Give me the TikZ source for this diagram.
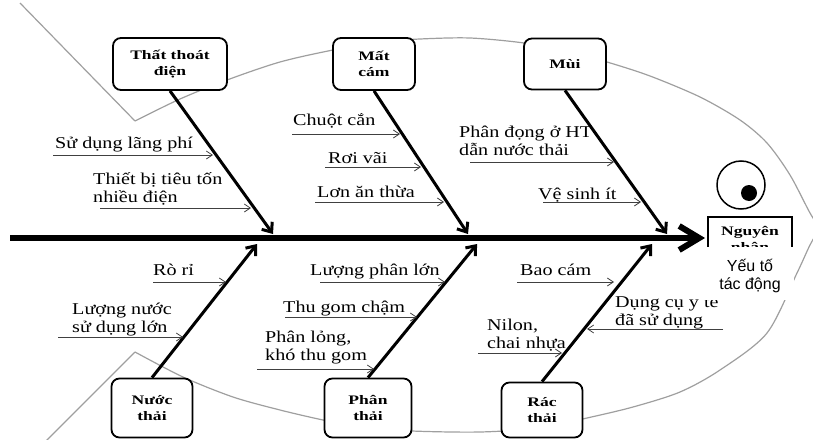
\documentclass[tikz,border=0pt]{standalone}
\usepackage{fontspec}
\setmainfont{Liberation Serif}[FakeStretch=1.22]
\newfontfamily\boxfont{Liberation Serif}[FakeStretch=1.35]
\newfontfamily\ysans{Liberation Sans}
\usetikzlibrary{arrows.meta}
\tikzset{
  cause/.style={draw, line width=1.8pt, rounded corners=8pt, fill=white, align=center,
    font=\boxfont\bfseries\fontsize{13}{16}\selectfont, inner sep=0pt},
  lbl/.style={font=\fontsize{16.5}{18}\selectfont, align=left, inner sep=0pt, anchor=base west},
  bone/.style={line width=3pt, -{Straight Barb[length=8pt,width=13pt]}},
  sub/.style={line width=0.8pt, black!75, -{Straight Barb[length=6pt,width=8pt]}},
  fish/.style={gray!75, line width=1.2pt}
}
\begin{document}
\begin{tikzpicture}[x=1pt,y=-1pt]
\useasboundingbox (0,0) rectangle (813,439);
\clip (0,0) rectangle (813,439);
% fish outline
\draw[fish] (20,3) -- (135,121);
\draw[fish] plot[smooth] coordinates {(135,121) (180,99) (227,80) (280,62) (333,50) (380,42) (420,39) (470,38) (524,43) (570,52) (607,62) (650,76) (700,97) (740,120) (767,143) (790,175) (810,213) (820,228)};
\draw[fish] plot[smooth] coordinates {(820,228) (810,245) (797,273) (767,333) (720,370) (680,392) (633,407) (587,418) (540,428) (480,432) (412,431) (360,427) (323,420) (280,410) (233,397) (183,377) (135,352)};
\draw[fish] (135,352) -- (45,442);
% eye
\node[draw, circle, line width=1.5pt, minimum size=48pt, inner sep=0pt] (eye) at (741,185) {};
\node[fill=black, circle, minimum size=16pt, inner sep=0pt] (pupil) at (749,193) {};
% cause boxes
\node[cause, minimum width=114pt, minimum height=52pt] (tt) at (170,64) {Thất thoát\\điện};
\node[cause, minimum width=82pt, minimum height=52pt] (mc) at (374,64) {Mất\\cám};
\node[cause, minimum width=82pt, minimum height=51pt] (mui) at (565,64) {Mùi};
\node[cause, minimum width=81pt, minimum height=59pt] (nt) at (152,408) {Nước\\thải};
\node[cause, minimum width=87pt, minimum height=59pt] (pt) at (368,408) {Phân\\thải};
\node[cause, minimum width=81pt, minimum height=55pt] (rt) at (542,410) {Rác\\thải};
% spine
\coordinate (sp0) at (10,238);
\coordinate (sp1) at (705,238);
\draw[line width=6pt, -{Straight Barb[length=20pt,width=24pt]}] (sp0) -- (sp1);
% bones
\coordinate (e1) at (273,234);
\coordinate (e2) at (468,234);
\coordinate (e3) at (667,234);
\coordinate (f1) at (257,244);
\coordinate (f2) at (477,244);
\coordinate (f3) at (652,244);
\draw[bone] (tt.south) -- (e1);
\draw[bone] (mc.south) -- (e2);
\draw[bone] (mui.south) -- (e3);
\draw[bone] (nt.north) -- (f1);
\draw[bone] (pt.north) -- (f2);
\draw[bone] (rt.north) -- (f3);
% labels (base anchor = baseline of last line)
\node[lbl] (l1) at (55,148) {Sử dụng lãng phí};
\node[lbl] (l2) at (93,202) {Thiết bị tiêu tốn\\nhiều điện};
\node[lbl] (l3) at (293,125) {Chuột cắn};
\node[lbl] (l4) at (328,163) {Rơi vãi};
\node[lbl] (l5) at (317,197) {Lơn ăn thừa};
\node[lbl] (l6) at (459,155) {Phân đọng ở HT\\dẫn nước thải};
\node[lbl] (l7) at (538,199) {Vệ sinh ít};
\node[lbl] (l8) at (153,275) {Rò rỉ};
\node[lbl] (l9) at (72,332) {Lượng nước\\sử dụng lớn};
\node[lbl] (l10) at (310,275) {Lượng phân lớn};
\node[lbl] (l11) at (283,312) {Thu gom chậm};
\node[lbl] (l12) at (265,360) {Phân lỏng,\\khó thu gom};
\node[lbl] (l13) at (520,275) {Bao cám};
\node[lbl] (l14) at (615,325) {Dụng cụ y tế\\đã sử dụng};
\node[lbl] (l15) at (487,348) {Nilon,\\chai nhựa};
% sub arrows
\coordinate (a1s) at (53,155);  \coordinate (a1e) at (213,155);
\coordinate (a2s) at (100,208); \coordinate (a2e) at (251,208);
\coordinate (a3s) at (292,134); \coordinate (a3e) at (400,134);
\coordinate (a4s) at (325,167); \coordinate (a4e) at (421,167);
\coordinate (a5s) at (315,202); \coordinate (a5e) at (444,202);
\coordinate (a6s) at (470,162); \coordinate (a6e) at (614,162);
\coordinate (a7s) at (543,202); \coordinate (a7e) at (641,202);
\coordinate (b1s) at (153,282); \coordinate (b1e) at (226,282);
\coordinate (b2s) at (58,337);  \coordinate (b2e) at (183,337);
\coordinate (b3s) at (320,282); \coordinate (b3e) at (445,282);
\coordinate (b4s) at (285,317); \coordinate (b4e) at (417,317);
\coordinate (b5s) at (257,369); \coordinate (b5e) at (374,369);
\coordinate (b6s) at (517,282); \coordinate (b6e) at (614,282);
\coordinate (b7s) at (723,329); \coordinate (b7e) at (587,329);
\coordinate (b8s) at (478,353); \coordinate (b8e) at (562,353);
\foreach \p in {a1,a2,a3,a4,a5,a6,a7,b1,b2,b3,b4,b5,b6,b7,b8}
  \draw[sub] (\p s) -- (\p e);
% effect box
\draw[line width=1.5pt] (708,262) |- (792,217) -- (792,262);
\node[font=\boxfont\bfseries\fontsize{13}{16}\selectfont, inner sep=0pt, align=center] (nn) at (750,239) {Nguyên\\nhân};
\fill[white] (702,247) rectangle (794,300);
\node[font=\ysans\fontsize{16}{18}\selectfont, inner sep=0pt, align=center] (yt) at (750,276) {Yếu tố\\tác động};
\end{tikzpicture}
\end{document}
